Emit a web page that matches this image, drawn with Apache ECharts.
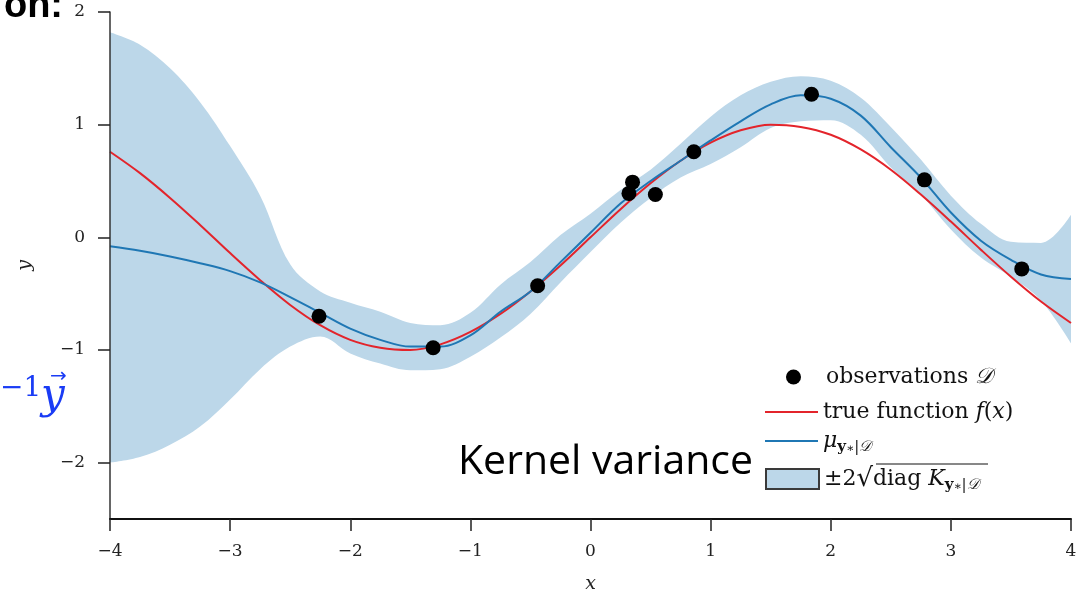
<!DOCTYPE html>
<html><head><meta charset="utf-8">
<script src="https://cdn.jsdelivr.net/npm/echarts@6/dist/echarts.min.js"></script>
<style>html,body{margin:0;padding:0;background:#fff}#c{width:1086px;height:596px}</style>
</head><body><div id="c"></div>
<script>
// ---- data ----
const xs     = [-4,-3.75,-3.5,-3.25,-3,-2.75,-2.5,-2.25,-2,-1.75,-1.5,-1.25,-1,-0.75,-0.5,-0.25,0,0.25,0.5,0.75,1,1.25,1.5,1.75,2,2.25,2.5,2.75,3,3.25,3.5,3.75,4];
const trueY  = [0.76,0.57,0.35,0.11,-0.14,-0.38,-0.60,-0.78,-0.91,-0.98,-1.00,-0.95,-0.84,-0.68,-0.48,-0.25,0.00,0.25,0.48,0.68,0.84,0.95,1.00,0.98,0.91,0.78,0.60,0.38,0.14,-0.11,-0.35,-0.57,-0.76];
const meanY  = [-0.08,-0.12,-0.17,-0.23,-0.30,-0.40,-0.53,-0.67,-0.81,-0.91,-0.97,-0.97,-0.87,-0.66,-0.48,-0.22,0.04,0.30,0.50,0.68,0.86,1.03,1.18,1.26,1.23,1.08,0.80,0.53,0.22,-0.03,-0.20,-0.33,-0.37];
const upperY = [1.82,1.71,1.50,1.20,0.81,0.37,-0.24,-0.48,-0.58,-0.66,-0.76,-0.78,-0.67,-0.42,-0.22,0.02,0.21,0.42,0.60,0.83,1.07,1.26,1.38,1.43,1.39,1.24,0.98,0.69,0.37,0.12,-0.04,-0.05,0.20];
const lowerY = [-2.00,-1.95,-1.84,-1.68,-1.44,-1.17,-0.97,-0.88,-1.03,-1.12,-1.18,-1.17,-1.06,-0.89,-0.68,-0.40,-0.13,0.13,0.35,0.53,0.65,0.80,0.97,1.03,1.04,0.91,0.62,0.38,0.07,-0.18,-0.35,-0.56,-0.94];
const obsX   = [-2.26,-1.31,-0.44,0.32,0.35,0.54,0.86,1.84,2.78,3.59];
const obsY   = [-0.70,-0.98,-0.43,0.39,0.49,0.38,0.76,1.27,0.51,-0.28];
const xTicks = [-4,-3,-2,-1,0,1,2,3,4];
const yTicks = [-2,-1,0,1,2];

const pair = (a, b) => a.map((v, i) => [v, b[i]]);
const SERIF = '"DejaVu Serif", "Liberation Serif", serif';
const minus = v => String(v).replace('-', '\u2212');
const BAND = '#bcd7e9';
const richBase = {
  n:   {fontFamily: SERIF, fontSize: 22, color: '#111', lineHeight: 28},
  i:   {fontFamily: SERIF, fontSize: 22, fontStyle: 'italic', color: '#111', lineHeight: 28},
  c:   {fontFamily: SERIF, fontSize: 22, fontStyle: 'italic', color: '#111', lineHeight: 28},
  sb:  {fontFamily: SERIF, fontSize: 15, fontWeight: 'bold', color: '#111', lineHeight: 28, verticalAlign: 'bottom'},
  sub: {fontFamily: SERIF, fontSize: 15, fontStyle: 'italic', color: '#111', lineHeight: 28, verticalAlign: 'bottom'},
  ss:  {fontFamily: SERIF, fontSize: 12, color: '#111', lineHeight: 28, verticalAlign: 'bottom'},
  r:   {fontFamily: SERIF, fontSize: 26, color: '#111', lineHeight: 28}
};
const labels = {
  'obs':  '{n|observations }{c|\u{1D49F}}',
  'true': '{n|true function }{i|f}{n|(}{i|x}{n|)}',
  'mean': '{i|\u03BC}{sb|y}{ss|\u2217}{sub||\u{1D49F}}',
  'band': '{n|\u00B12}{r|\u221A}{n|diag }{i|K}{sb|y}{ss|\u2217}{sub||\u{1D49F}}'
};
function mkLegend(name, icon, left, top, w, h, extra, textPad) {
  const d = Object.assign({name: name, icon: icon}, extra || {});
  return {data: [d], left: left, top: top, itemWidth: w, itemHeight: h,
          selectedMode: false, padding: 0, z: 8,
          formatter: n => labels[n], textStyle: {rich: richBase, padding: textPad || 0}};
}

const chart = echarts.init(document.getElementById('c'), null, {renderer: 'canvas'});
chart.setOption({
  animation: false,
  backgroundColor: '#fff',
  grid: {left: 110, right: 15, top: 12, bottom: 77, containLabel: false, outerBoundsMode: 'none'},
  xAxis: {
    type: 'value', min: -4, max: 4, interval: 1, z: 6,
    name: 'x', nameLocation: 'middle', nameGap: 56,
    nameTextStyle: {fontFamily: SERIF, fontStyle: 'italic', fontSize: 19, color: '#222'},
    axisLine: {onZero: false, lineStyle: {color: '#111', width: 2}},
    axisTick: {show: true, length: 12, inside: false, lineStyle: {color: '#222', width: 1.5}},
    axisLabel: {margin: 24, fontFamily: SERIF, fontSize: 17, color: '#222', formatter: minus},
    splitLine: {show: false}
  },
  yAxis: {
    type: 'value', min: -2.5, max: 2, z: 6,
    name: 'y', nameLocation: 'middle', nameGap: 75, nameRotate: 90,
    nameTextStyle: {fontFamily: SERIF, fontStyle: 'italic', fontSize: 19, color: '#222'},
    axisLine: {show: true, onZero: false, lineStyle: {color: '#333', width: 1.5}},
    axisTick: {show: true, length: 12, inside: false, customValues: yTicks, lineStyle: {color: '#222', width: 1.5}},
    axisLabel: {margin: 25, customValues: yTicks, fontFamily: SERIF, fontSize: 17, color: '#222', formatter: minus},
    splitLine: {show: false}
  },
  legend: [
    mkLegend('obs', 'circle', 786, 366, 15, 15, {itemStyle: {color: '#000', opacity: 1}}, [0, 0, 0, 20]),
    mkLegend('true', 'rect', 765, 401, 53, 2, {itemStyle: {color: '#e3242b'}}),
    mkLegend('mean', 'rect', 765, 430, 53, 2, {itemStyle: {color: '#1f77b4'}}),
    mkLegend('band', 'rect', 765, 466, 53, 20, {itemStyle: {color: BAND, borderColor: '#3a3a3a', borderWidth: 2}})
  ],
  series: [
    {name: 'band', type: 'line', data: pair(xs, upperY), smooth: 0.35, symbol: 'none',
     color: BAND, lineStyle: {width: 0, opacity: 0},
     areaStyle: {color: BAND, opacity: 1, origin: 'start'}, silent: true, z: 1},
    {name: 'lowerEdge', type: 'line', data: pair(xs, lowerY), smooth: 0.35, symbol: 'none',
     color: '#fff', lineStyle: {width: 0, opacity: 0},
     areaStyle: {color: '#fff', opacity: 1, origin: 'start'}, silent: true, z: 2},
    {name: 'true', type: 'line', data: pair(xs, trueY), smooth: 0.35, symbol: 'none',
     color: '#e3242b', lineStyle: {color: '#e3242b', width: 2}, z: 3},
    {name: 'mean', type: 'line', data: pair(xs, meanY), smooth: 0.35, symbol: 'none',
     color: '#1f77b4', lineStyle: {color: '#1f77b4', width: 2}, z: 4},
    {name: 'obs', type: 'scatter', data: pair(obsX, obsY), symbol: 'circle', symbolSize: 15,
     itemStyle: {color: '#000', opacity: 1}, z: 5}
  ],
  graphic: [
    {type: 'text', right: 1086 - 63, top: -12, z: 10,
     style: {text: 'on:', font: 'bold 38px "Liberation Sans", "Open Sans", sans-serif', fill: '#000'}},
    {type: 'text', left: 0, top: 375, z: 10,
     style: {text: '\u22121', font: '28px "DejaVu Serif", serif', fill: '#1a3cf5'}},
    {type: 'text', left: 41, top: 376, z: 10,
     style: {text: 'y', font: 'italic 42px "DejaVu Serif", serif', fill: '#1a3cf5'}},
    {type: 'text', left: 50, top: 367, z: 10,
     style: {text: '\u2192', font: '20px "DejaVu Sans", sans-serif', fill: '#1a3cf5'}},
    {type: 'text', left: 458, top: 442, z: 10,
     style: {text: 'Kernel variance', font: '41px "Open Sans", sans-serif', fill: '#000'}},
    {type: 'line', z: 10, shape: {x1: 876, y1: 464, x2: 988, y2: 464}, style: {stroke: '#111', lineWidth: 1}}
  ]
});
</script></body></html>
